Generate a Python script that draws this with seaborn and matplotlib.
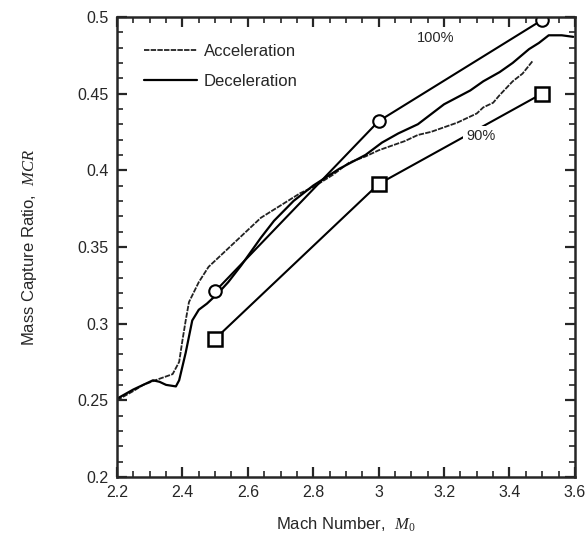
import matplotlib as mpl
import matplotlib.pyplot as plt
import pandas as pd
import seaborn as sns
from matplotlib.ticker import MultipleLocator

mpl.use("Agg")

# experiment, 100% and 90% operating lines
mach_points = [2.5, 3.0, 3.5]
mcr_100 = [0.321, 0.432, 0.498]
mcr_90 = [0.290, 0.391, 0.450]

# acceleration sweep (jagged trace)
accel_mach = [2.20, 2.25, 2.28, 2.33, 2.37, 2.39, 2.40, 2.41, 2.42, 2.45, 2.48,
              2.52, 2.56, 2.59, 2.64, 2.70, 2.76, 2.80, 2.86, 2.91, 2.96, 3.00,
              3.04, 3.08, 3.12, 3.16, 3.20, 3.24, 3.27, 3.30, 3.32, 3.35, 3.37,
              3.41, 3.44, 3.47]
accel_mcr = [0.250, 0.256, 0.260, 0.264, 0.267, 0.275, 0.289, 0.302, 0.314,
             0.327, 0.337, 0.345, 0.353, 0.359, 0.369, 0.377, 0.385, 0.389,
             0.397, 0.405, 0.409, 0.413, 0.416, 0.419, 0.423, 0.425, 0.428,
             0.431, 0.434, 0.437, 0.441, 0.444, 0.449, 0.458, 0.463, 0.471]

# deceleration sweep
decel_mach = [2.20, 2.25, 2.31, 2.33, 2.35, 2.38, 2.39, 2.41, 2.43, 2.45, 2.475,
              2.51, 2.54, 2.58, 2.64, 2.68, 2.74, 2.80, 2.88, 2.96, 3.01, 3.06,
              3.12, 3.20, 3.28, 3.32, 3.37, 3.41, 3.46, 3.49, 3.52, 3.56, 3.595]
decel_mcr = [0.251, 0.257, 0.263, 0.262, 0.260, 0.259, 0.263, 0.281, 0.302,
             0.309, 0.313, 0.320, 0.327, 0.338, 0.356, 0.367, 0.380, 0.390,
             0.401, 0.410, 0.418, 0.424, 0.430, 0.443, 0.452, 0.458, 0.464,
             0.470, 0.479, 0.483, 0.488, 0.488, 0.487]

sns.set_style("ticks")
mpl.rcParams.update(
    {
        "font.family": "sans-serif",
        "font.sans-serif": ["Liberation Sans", "DejaVu Sans"],
        "mathtext.fontset": "custom",
        "mathtext.it": "Liberation Serif:italic",
        "mathtext.rm": "Liberation Serif",
        "font.size": 11,
        "axes.linewidth": 1.8,
        "xtick.direction": "in",
        "ytick.direction": "in",
        "xtick.top": True,
        "ytick.right": True,
    }
)

fig = plt.figure(figsize=(5.86, 5.45), dpi=100)
ax = fig.add_axes([0.1997, 0.125, 0.7813, 0.844])

accel = pd.DataFrame({"mach": accel_mach, "mcr": accel_mcr})
decel = pd.DataFrame({"mach": decel_mach, "mcr": decel_mcr})
pts = pd.DataFrame({"mach": mach_points, "p100": mcr_100, "p90": mcr_90})

sns.lineplot(data=accel, x="mach", y="mcr", sort=False, estimator=None,
             color="#222222", lw=1.3, ax=ax, label="Acceleration")
ax.lines[-1].set_dashes([3, 0.7])
sns.lineplot(data=decel, x="mach", y="mcr", sort=False, estimator=None,
             color="black", lw=1.6, ax=ax, label="Deceleration")
sns.lineplot(data=pts, x="mach", y="p100", sort=False, estimator=None,
             color="black", lw=1.5, marker="o", markersize=9,
             markerfacecolor="white", markeredgecolor="black",
             markeredgewidth=1.5, ax=ax, legend=False)
sns.lineplot(data=pts, x="mach", y="p90", sort=False, estimator=None,
             color="black", lw=1.5, marker="s", markersize=10,
             markerfacecolor="white", markeredgecolor="black",
             markeredgewidth=1.8, ax=ax, legend=False)

ax.text(3.175, 0.486, "100%", ha="center", va="center", fontsize=10.5)
ax.text(3.313, 0.422, "90%", ha="center", va="center", fontsize=10.5,
        zorder=5, bbox=dict(facecolor="white", edgecolor="none", pad=2.5))

ax.set_xlim(2.2, 3.6)
ax.set_ylim(0.2, 0.5)
ax.xaxis.set_major_locator(MultipleLocator(0.2))
ax.xaxis.set_minor_locator(MultipleLocator(0.05))
ax.yaxis.set_major_locator(MultipleLocator(0.05))
ax.yaxis.set_minor_locator(MultipleLocator(0.01))
ax.set_xticklabels([f"{v:g}" for v in ax.get_xticks()])
ax.set_yticklabels([f"{v:g}" for v in ax.get_yticks()])
ax.tick_params(which="major", length=7, width=1.6, labelsize=11.5, pad=6)
ax.tick_params(which="minor", length=4, width=1.2)

ax.set_xlabel(r"Mach Number,  $M_0$", fontsize=12, labelpad=11)
ax.set_ylabel(r"Mass Capture Ratio,  $MCR$", fontsize=12, labelpad=28)

leg = ax.legend(loc="upper left", frameon=False, fontsize=12,
                handlelength=3.2, handletextpad=0.4, labelspacing=0.9,
                borderaxespad=1.2)

fig.savefig("out.png", dpi=100)
